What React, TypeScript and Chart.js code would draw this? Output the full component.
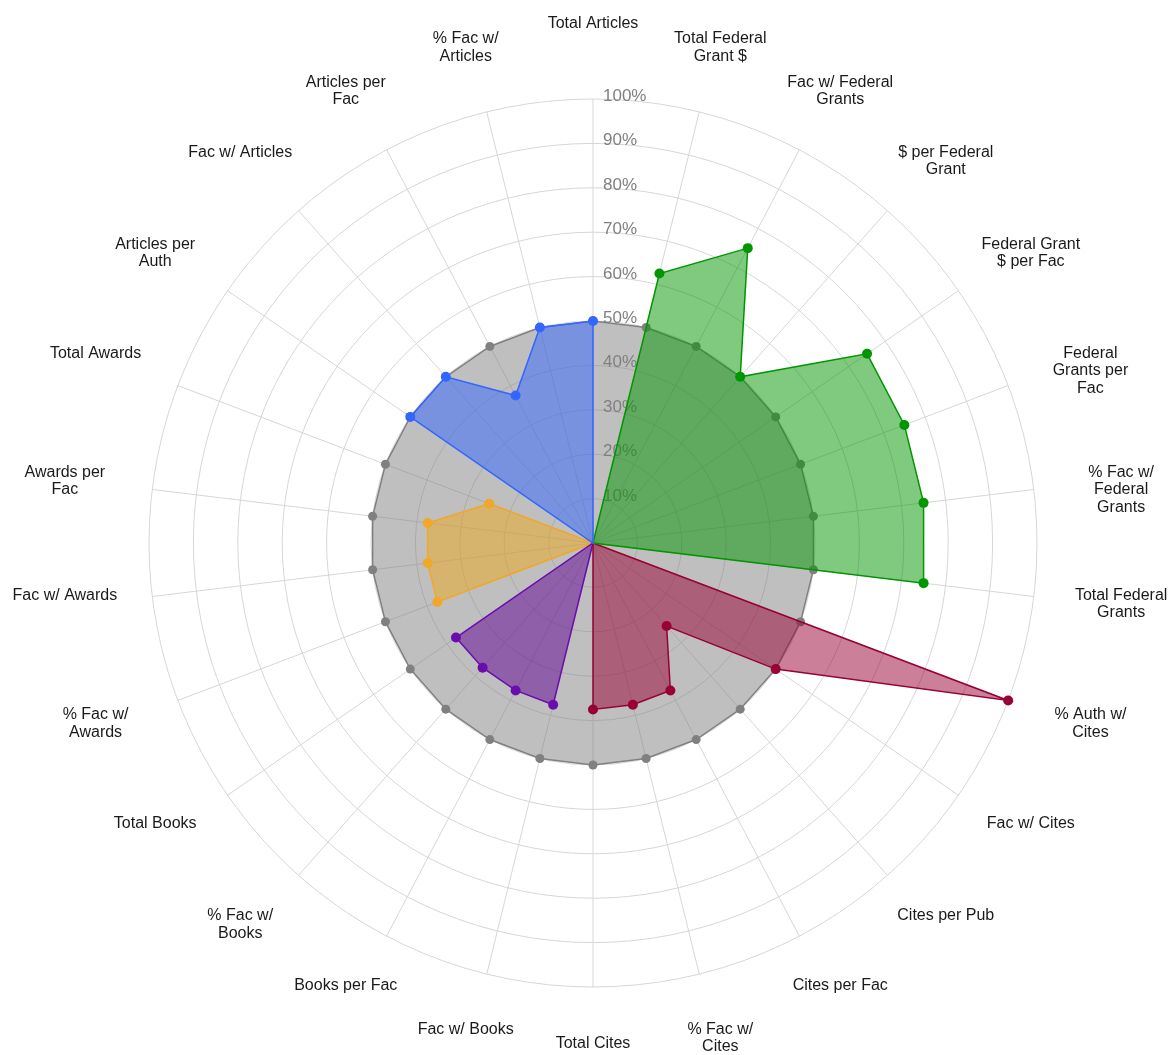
import React, { useEffect, useRef } from 'react';
import { Chart, registerables } from 'chart.js';

Chart.register(...registerables);

const TITLE = 'All Faculty Comparison';

const categories: string[][] = [
  ['Total Articles'],
  ['Total Federal', 'Grant $'],
  ['Fac w/ Federal', 'Grants'],
  ['$ per Federal', 'Grant'],
  ['Federal Grant', '$ per Fac'],
  ['Federal', 'Grants per', 'Fac'],
  ['% Fac w/', 'Federal', 'Grants'],
  ['Total Federal', 'Grants'],
  ['% Auth w/', 'Cites'],
  ['Fac w/ Cites'],
  ['Cites per Pub'],
  ['Cites per Fac'],
  ['% Fac w/', 'Cites'],
  ['Total Cites'],
  ['Fac w/ Books'],
  ['Books per Fac'],
  ['% Fac w/', 'Books'],
  ['Total Books'],
  ['% Fac w/', 'Awards'],
  ['Fac w/ Awards'],
  ['Awards per', 'Fac'],
  ['Total Awards'],
  ['Articles per', 'Auth'],
  ['Fac w/ Articles'],
  ['Articles per', 'Fac'],
  ['% Fac w/', 'Articles'],
];

const articles = [50, 0, 0, 0, 0, 0, 0, 0, 0, 0, 0, 0, 0, 0, 0, 0, 0, 0, 0, 0, 0, 0, 50, 50, 37.5, 50];
const grants = [0, 62.5, 75, 50, 75, 75, 75, 75, 0, 0, 0, 0, 0, 0, 0, 0, 0, 0, 0, 0, 0, 0, 0, 0, 0, 0];
const cites = [0, 0, 0, 0, 0, 0, 0, 0, 100, 50, 25, 37.5, 37.5, 37.5, 0, 0, 0, 0, 0, 0, 0, 0, 0, 0, 0, 0];
const books = [0, 0, 0, 0, 0, 0, 0, 0, 0, 0, 0, 0, 0, 0, 37.5, 37.5, 37.5, 37.5, 0, 0, 0, 0, 0, 0, 0, 0];
const awards = [0, 0, 0, 0, 0, 0, 0, 0, 0, 0, 0, 0, 0, 0, 0, 0, 0, 0, 37.5, 37.5, 37.5, 25, 0, 0, 0, 0];
const baseline = [50, 50, 50, 50, 50, 50, 50, 50, 50, 50, 50, 50, 50, 50, 50, 50, 50, 50, 50, 50, 50, 50, 50, 50, 50, 50];

const tickValues = [10, 20, 30, 40, 50, 60, 70, 80, 90, 100];
const tickLabel = (v: number) => `${v}%`;

const FONT = '"Liberation Sans", Arial, sans-serif';

const labelPlugin = {
  id: 'customLabels',
  beforeDatasetsDraw(chart: any) {
    const scale = chart.scales.r;
    const ctx = chart.ctx;
    ctx.save();
    ctx.font = `17px ${FONT}`;
    ctx.fillStyle = '#808080';
    ctx.textAlign = 'left';
    ctx.textBaseline = 'alphabetic';
    tickValues.forEach((v) => {
      const r = scale.getDistanceFromCenterForValue(v);
      ctx.fillText(tickLabel(v), scale.xCenter + 10, scale.yCenter - r + 2);
    });
    ctx.restore();
  },
  afterDraw(chart: any) {
    const scale = chart.scales.r;
    const ctx = chart.ctx;
    const da = scale.drawingArea;
    ctx.save();
    ctx.font = `16px ${FONT}`;
    ctx.fillStyle = '#1a1a1a';
    ctx.textAlign = 'center';
    ctx.textBaseline = 'middle';
    categories.forEach((lines, i) => {
      const a = scale.getIndexAngle(i);
      const x = scale.xCenter + (da + 88) * Math.sin(a);
      const y = scale.yCenter - 9 - (da + 66) * Math.cos(a);
      lines.forEach((line, k) => {
        ctx.fillText(line, x, y + k * 17.5);
      });
    });
    ctx.restore();
  },
};

function makeSet(label: string, data: number[], line: string, fill: string, radius = 5) {
  return {
    label,
    data,
    borderColor: line,
    backgroundColor: fill,
    pointBackgroundColor: line,
    pointBorderColor: line,
    pointBorderWidth: 0,
    pointRadius: (c: any) => (c.raw > 0 ? radius : 0),
    borderWidth: 1.5,
    fill: true,
    tension: 0,
  };
}

export default function App() {
  const ref = useRef<HTMLCanvasElement | null>(null);
  useEffect(() => {
    if (!ref.current) return;
    const chart = new Chart(ref.current, {
      type: 'radar',
      data: {
        labels: categories.map((c) => c.join(' ')),
        datasets: [
          makeSet('Articles', articles, '#3366ff', 'rgba(51,102,255,0.5)'),
          makeSet('Grants', grants, '#009600', 'rgba(0,150,0,0.5)'),
          makeSet('Cites', cites, '#990033', 'rgba(153,0,51,0.5)'),
          makeSet('Books', books, '#6a0dad', 'rgba(95,0,150,0.5)'),
          makeSet('Awards', awards, '#f0a828', 'rgba(240,170,30,0.5)'),
          makeSet('Median', baseline, '#808080', 'rgba(128,128,128,0.5)', 4.5),
        ] as any,
      },
      options: {
        animation: false,
        responsive: true,
        maintainAspectRatio: false,
        events: [],
        layout: { padding: { top: 0, left: 14, right: 0, bottom: 68 } },
        plugins: {
          legend: { display: false },
          tooltip: { enabled: false },
          title: {
            display: true,
            text: TITLE,
            color: '#000',
            font: { size: 40, weight: 'bold', family: FONT },
            padding: { top: 0, bottom: 94 },
          },
        },
        scales: {
          r: {
            min: 0,
            max: 100,
            ticks: { stepSize: 10, display: false },
            pointLabels: { display: false },
            grid: { circular: true, color: '#d6d6d6', lineWidth: 1 },
            angleLines: { color: '#d6d6d6', lineWidth: 1 },
          },
        },
      } as any,
      plugins: [labelPlugin],
    });
    return () => chart.destroy();
  }, []);
  return (
    <div style={{ position: 'absolute', left: 0, top: -43, width: 1172, height: 1098 }}>
      <canvas ref={ref} />
    </div>
  );
}
